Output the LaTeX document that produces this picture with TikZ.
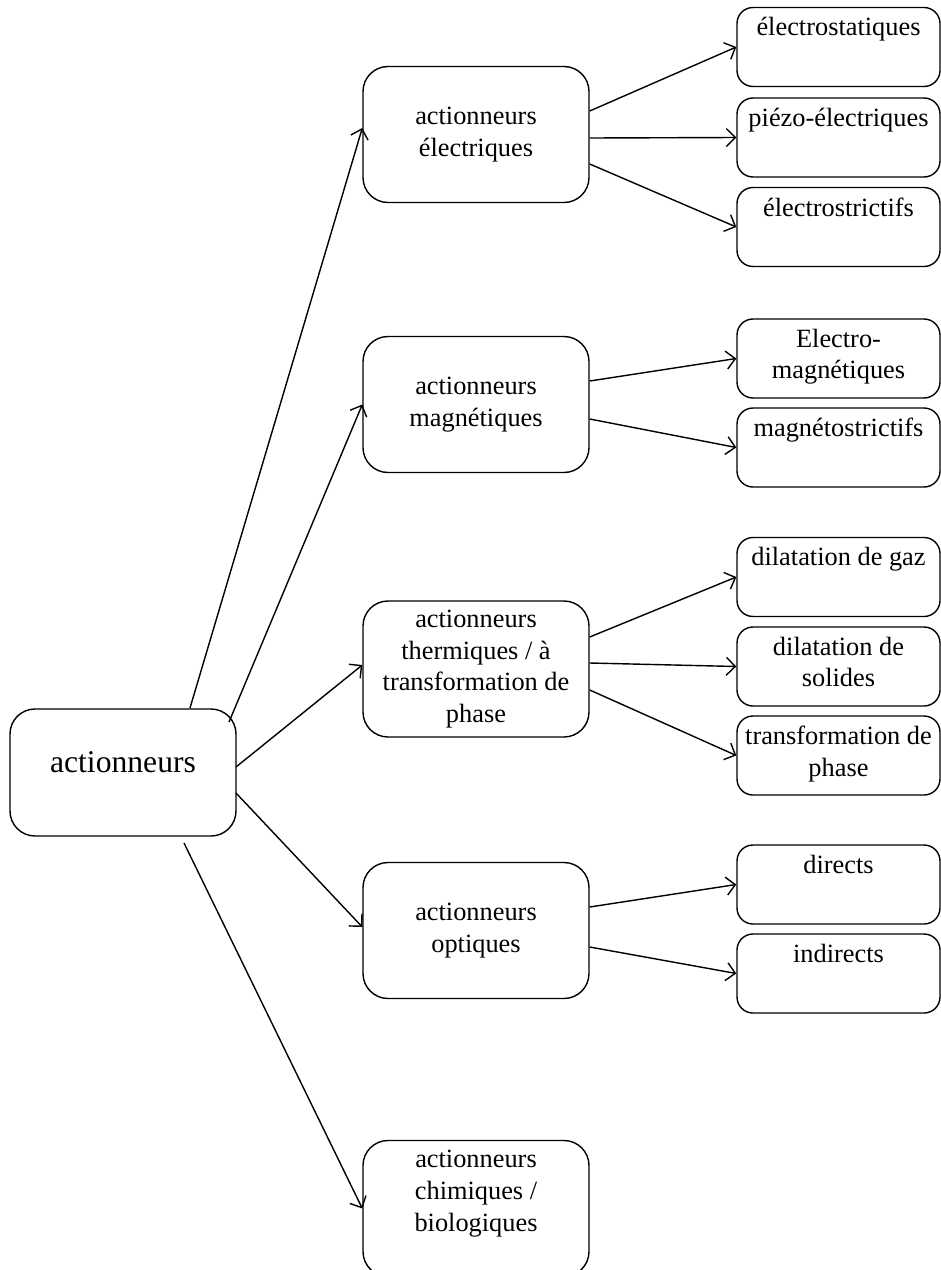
\documentclass[tikz,border=0pt]{standalone}
\usepackage{fontspec}
\setmainfont{Liberation Serif}
\usepackage{tikz}
\usetikzlibrary{arrows.meta}

% texte colle en haut de la boite
\newcommand{\enhaut}[3]{\parbox[c][#1][t]{#2}{\centering\vspace{0.2cm}#3}}

\begin{document}
\begin{tikzpicture}[
    font=\fontsize{15}{18}\selectfont,
    line width=0.8pt,
    >={Straight Barb[length=1.8mm,width=3.6mm]},
    racine/.style={draw, rounded corners=0.5cm, minimum width=4.52cm, minimum height=2.54cm, font=\fontsize{18}{21}\selectfont, text depth=0.4cm},
    branche/.style={draw, rounded corners=0.5cm, minimum width=4.52cm, minimum height=2.72cm, align=center, inner sep=0pt},
    feuille/.style={draw, rounded corners=0.32cm, minimum width=4.06cm, minimum height=1.58cm, inner sep=0pt}
  ]
        \useasboundingbox (0,0) rectangle (18.82,-25.4);

        % Racine
        \node[racine] (act) at (2.46,-15.45) {actionneurs};

        % Familles d'actionneurs
        \node[branche] (elec) at (9.52,-2.69) {actionneurs\\électriques};
        \node[branche] (mag) at (9.52,-8.09) {actionneurs\\magnétiques};
        \node[branche] (therm) at (9.52,-13.38) {actionneurs\\thermiques / à\\transformation de\\phase};
        \node[branche] (opt) at (9.52,-18.61) {actionneurs\\optiques};
        \node[branche] (chim) at (9.52,-24.17) {\enhaut{2.72cm}{4.4cm}{actionneurs\\chimiques /\\biologiques}};

        % Sous-familles
        \node[feuille] (estat) at (16.77,-0.94) {\enhaut{1.58cm}{4cm}{électrostatiques}};
        \node[feuille] (piezo) at (16.77,-2.75) {\enhaut{1.58cm}{4cm}{piézo-électriques}};
        \node[feuille] (estric) at (16.77,-4.54) {\enhaut{1.58cm}{4cm}{électrostrictifs}};
        \node[feuille] (emag) at (16.77,-7.17) {\enhaut{1.58cm}{4cm}{Electro-\\magnétiques}};
        \node[feuille] (mstric) at (16.77,-8.95) {\enhaut{1.58cm}{4cm}{magnétostrictifs}};
        \node[feuille] (gaz) at (16.77,-11.54) {\enhaut{1.58cm}{4cm}{dilatation de gaz}};
        \node[feuille] (solide) at (16.77,-13.33) {\enhaut{1.58cm}{4cm}{dilatation de\\solides}};
        \node[feuille] (phase) at (16.77,-15.11) {\enhaut{1.58cm}{4cm}{transformation de\\phase}};
        \node[feuille] (direct) at (16.77,-17.69) {\enhaut{1.58cm}{4cm}{directs}};
        \node[feuille] (indirect) at (16.77,-19.47) {\enhaut{1.58cm}{4cm}{indirects}};

        % Racine vers familles
        \draw[->] ([shift={(1.34,1.29)}]act.center) -- ([yshift=0.13cm]elec.west);
        \draw[->] ([shift={(2.12,1.01)}]act.center) -- (mag.west);
        \draw[->] ([shift={(2.26,0.11)}]act.center) -- ([yshift=0.08cm]therm.west);
        \draw[->] ([shift={(2.26,-0.41)}]act.center) -- ([yshift=0.07cm]opt.west);
        \draw[->] ([shift={(1.22,-1.41)}]act.center) -- (chim.west);

        % Familles vers sous-familles
        \draw[->] ([yshift=0.47cm]elec.east) -- (estat.west);
        \draw[->] ([yshift=-0.07cm]elec.east) -- (piezo.west);
        \draw[->] ([yshift=-0.59cm]elec.east) -- (estric.west);
        \draw[->] ([yshift=0.47cm]mag.east) -- (emag.west);
        \draw[->] ([yshift=-0.29cm]mag.east) -- (mstric.west);
        \draw[->] ([yshift=0.64cm]therm.east) -- (gaz.west);
        \draw[->] ([yshift=0.12cm]therm.east) -- (solide.west);
        \draw[->] ([yshift=-0.42cm]therm.east) -- (phase.west);
        \draw[->] ([yshift=0.47cm]opt.east) -- (direct.west);
        \draw[->] ([yshift=-0.33cm]opt.east) -- (indirect.west);
    \end{tikzpicture}
\end{document}
